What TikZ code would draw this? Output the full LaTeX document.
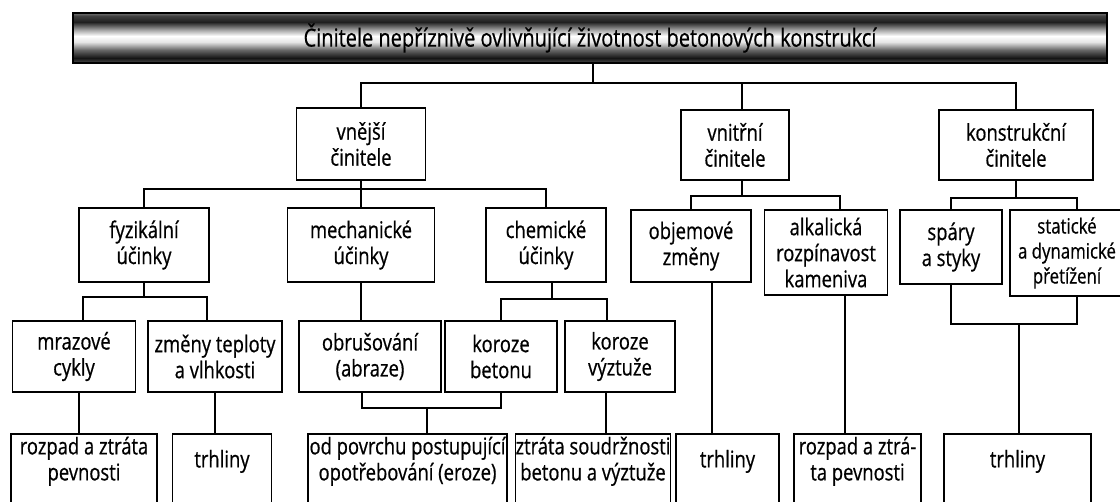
\documentclass[tikz,border=0pt]{standalone}
\usepackage{fontspec}
\setmainfont{Open Sans}[FakeStretch=0.8, FakeBold=0.6]

\pgfdeclareverticalshading{titlebar}{100bp}{%
  color(0bp)=(black!70); color(25bp)=(black!70); color(30bp)=(black!92);
  color(38bp)=(black!60); color(46bp)=(black!10); color(52bp)=(white);
  color(58bp)=(black!35); color(66bp)=(black!88); color(72bp)=(black!75);
  color(75bp)=(black!55); color(100bp)=(black!55)}

\newcommand{\celltext}[1]{\begin{tabular}{@{}c@{}}#1\end{tabular}}

\begin{document}
\begin{tikzpicture}[%
  x=1pt, y=-1pt,
  every node/.style={inner sep=0pt},
  bar/.style={draw=black, line width=1.8pt, shade, shading=titlebar,
    font=\fontsize{25}{28}\selectfont},
  box/.style={draw=black, line width=1.8pt, fill=white, align=center,
    font=\fontsize{23}{26}\selectfont},
  endbox/.style={draw=black, line width=1.8pt, fill=white, anchor=north,
    minimum height=100pt, text height=32pt, text depth=63pt,
    font=\fontsize{23}{26}\selectfont},
  link/.style={line width=1.8pt},
]

  \clip (0,0) rectangle (1120,502);

  \node[bar, minimum width=1034pt, minimum height=50pt] (title) at (590,38)
    {Činitele nepříznivě ovlivňující životnost betonových konstrukcí};

  \node[box, minimum width=129pt, minimum height=72pt] (vnejsi) at (361,144) {vnější\\činitele};
  \node[box, minimum width=108pt, minimum height=70pt] (vnitrni) at (735,145) {vnitřní\\činitele};
  \node[box, minimum width=154pt, minimum height=70pt] (konstr) at (1016,145) {konstrukční\\činitele};

  \node[box, minimum width=130pt, minimum height=74pt] (fyz) at (144,245) {fyzikální\\účinky};
  \node[box, minimum width=147pt, minimum height=74pt] (mech) at (361,245) {mechanické\\účinky};
  \node[box, minimum width=120pt, minimum height=74pt] (chem) at (546,245) {chemické\\účinky};
  \node[box, minimum width=120pt, minimum height=72pt] (obj) at (691,246) {objemové\\změny};
  \node[box, minimum width=123pt, minimum height=85pt] (alk) at (826,252.5) {alkalická\\rozpínavost\\kameniva};
  \node[box, minimum width=102pt, minimum height=74pt] (spary) at (951,247) {spáry\\a styky};
  \node[box, minimum width=114pt, minimum height=86pt, font=\fontsize{21}{25}\selectfont]
    (stat) at (1067,253) {statické\\a dynamické\\přetížení};

  \node[box, minimum width=123pt, minimum height=71pt] (mraz) at (74,356.5) {mrazové\\cykly};
  \node[box, minimum width=134pt, minimum height=71pt] (zmeny) at (215,356.5) {změny teploty\\a vlhkosti};
  \node[box, minimum width=142pt, minimum height=71pt] (obrus) at (370,356.5) {obrušování\\(abraze)};
  \node[box, minimum width=112pt, minimum height=71pt] (korb) at (501,356.5) {koroze\\betonu};
  \node[box, minimum width=110pt, minimum height=71pt] (korv) at (620,356.5) {koroze\\výztuže};

  \node[endbox, minimum width=146pt] (rozpadA) at (84,433) {\celltext{rozpad a ztráta\\pevnosti}};
  \node[endbox, minimum width=99pt] (trhA) at (222,433) {\celltext{trhliny}};
  \node[endbox, minimum width=199pt] (odpov) at (407.5,433) {\celltext{od povrchu postupující\\opotřebování (eroze)}};
  \node[endbox, minimum width=148pt] (ztrata) at (593,433) {\celltext{ztráta soudržnosti\\betonu a výztuže}};
  \node[endbox, minimum width=103pt] (trhB) at (727.5,433) {\celltext{trhliny}};
  \node[endbox, minimum width=127pt] (rozpadB) at (857.5,433) {\celltext{rozpad a ztrá-\\ta pevnosti}};
  \node[endbox, minimum width=147pt] (trhC) at (1017.5,433) {\celltext{trhliny}};

  % hlavni vetve
  \coordinate (t0) at (593,83);
  \coordinate (v0) at ([xshift=7pt]vnitrni.north);
  \draw[link] (title.south -| t0) -- (t0);
  \draw[link] (vnejsi.north) |- (konstr.north |- t0) -- (konstr.north);
  \draw[link] (v0) -- (v0 |- t0);

  \coordinate (t1) at (361,189);
  \draw[link] (vnejsi.south) -- (vnejsi.south |- mech.north);
  \draw[link] (fyz.north) |- (chem.north |- t1) -- (chem.north);

  \coordinate (v1) at ([xshift=7pt]vnitrni.south);
  \coordinate (t2) at (742,196);
  \coordinate (a0) at ([xshift=14pt]alk.north);
  \draw[link] (v1) -- (t2);
  \draw[link] (obj.north) |- (a0 |- t2) -- (a0);

  \coordinate (t3) at (1017,198);
  \coordinate (s0) at ([xshift=10pt]stat.north);
  \draw[link] (konstr.south) -- (konstr.south |- t3);
  \draw[link] (spary.north) |- (s0 |- t3) -- (s0);

  % ucinky
  \coordinate (t4) at (144,297);
  \coordinate (m0) at ([xshift=9pt]mraz.north);
  \coordinate (z0) at ([xshift=-8pt]zmeny.north);
  \draw[link] (fyz.south) -- (t4);
  \draw[link] (m0) |- (z0 |- t4) -- (z0);

  \draw[link] (mech.south) -- (mech.south |- obrus.north);

  \coordinate (c0) at ([xshift=6pt]chem.south);
  \coordinate (t5) at (552,299);
  \coordinate (k0) at ([xshift=-13pt]korv.north);
  \draw[link] (c0) -- (t5);
  \draw[link] (korb.north) |- (k0 |- t5) -- (k0);

  % projevy
  \coordinate (m1) at ([xshift=5pt]mraz.south);
  \draw[link] (m1) -- (m1 |- rozpadA.north);
  \draw[link] (zmeny.south) -- (zmeny.south |- trhA.north);

  \coordinate (o0) at ([xshift=-8pt]obrus.south);
  \coordinate (t6) at (427,408);
  \draw[link] (o0) |- (korb.south |- t6) -- (korb.south);
  \draw[link] (t6) -- (t6 |- odpov.north);

  \coordinate (k1) at ([xshift=-14pt]korv.south);
  \draw[link] (k1) -- (k1 |- ztrata.north);

  \coordinate (o1) at ([xshift=21pt]obj.south);
  \draw[link] (o1) -- (o1 |- trhB.north);

  \coordinate (a1) at ([xshift=19pt]alk.south);
  \draw[link] (a1) -- (a1 |- rozpadB.north);

  \coordinate (s1) at ([xshift=10pt]stat.south);
  \coordinate (t7) at (1019,324);
  \draw[link] (spary.south) |- (s1 |- t7) -- (s1);
  \draw[link] (t7) -- (t7 |- trhC.north);

\end{tikzpicture}
\end{document}
